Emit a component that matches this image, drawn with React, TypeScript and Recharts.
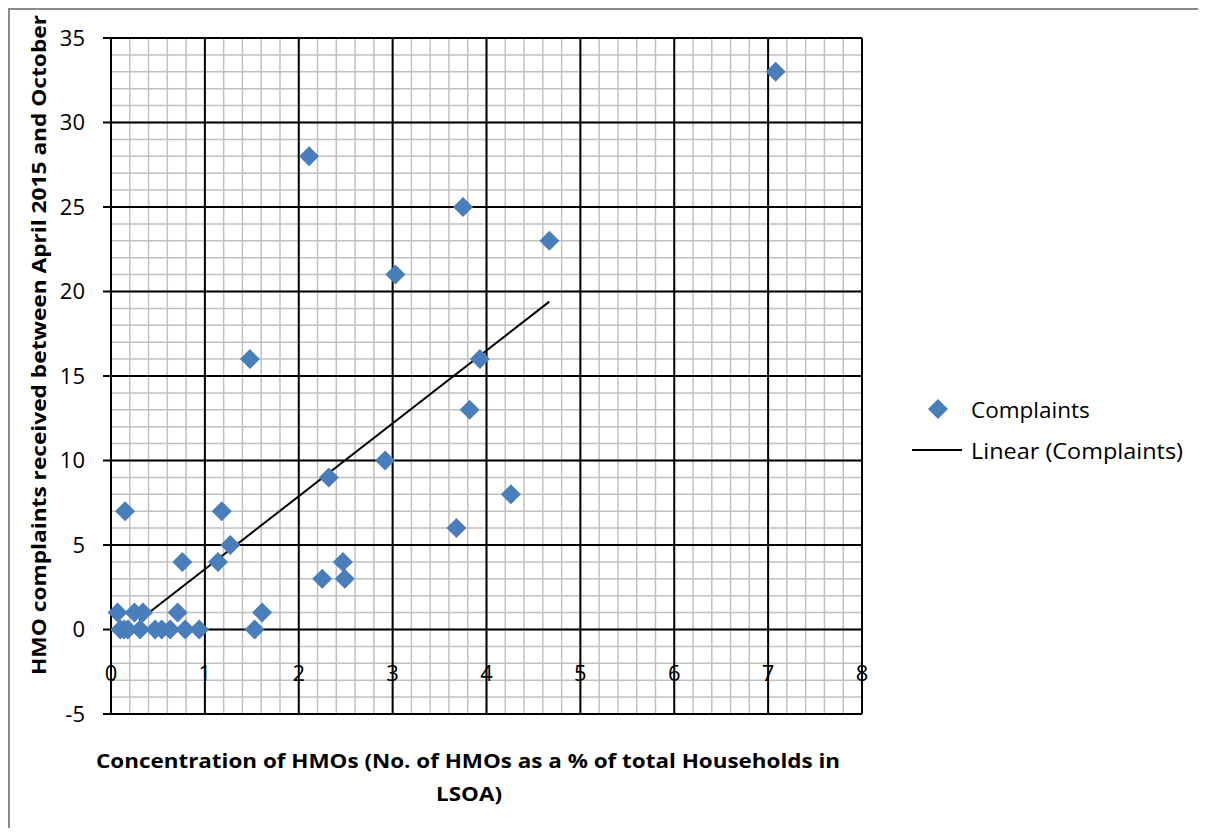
import React from "react";
import { ScatterChart, Scatter, XAxis, YAxis, CartesianGrid } from "recharts";

// HMO concentration (% of households) per LSOA
const hmoShare = [
  0.07, 0.15, 0.25, 0.34, 0.71, 1.61,
  0.1, 0.14, 0.18, 0.31, 0.47, 0.54, 0.63, 0.79, 0.94, 1.53,
  0.76, 1.14, 1.18, 1.27, 1.48, 2.11, 2.25, 2.32, 2.47, 2.49,
  2.92, 3.03, 3.68, 3.75, 3.82, 3.93, 4.26, 4.67, 7.08,
];
// Complaints received per LSOA
const complaints = [
  1, 7, 1, 1, 1, 1,
  0, 0, 0, 0, 0, 0, 0, 0, 0, 0,
  4, 4, 7, 5, 16, 28, 3, 9, 4, 3,
  10, 21, 6, 25, 13, 16, 8, 23, 33,
];
// Linear trend line end points
const trendX = [0.3, 4.67];
const trendY = [0.55, 19.4];

const xMajorTicks = [0, 1, 2, 3, 4, 5, 6, 7, 8];
const yMajorTicks = [-5, 0, 5, 10, 15, 20, 25, 30, 35];
const xMinorTicks = Array.from({ length: 41 }, (_, i) => Math.round(i * 2) / 10);
const yMinorTicks = Array.from({ length: 41 }, (_, i) => i - 5);

const seriesName = "Complaints";
const trendName = "Linear (Complaints)";
const xTitle1 = "Concentration of HMOs (No. of HMOs as a % of total Households in";
const xTitle2 = "LSOA)";
const yTitle = "HMO complaints received between April 2015  and October";

const points = hmoShare.map((x, i) => ({ x, y: complaints[i] }));
const trend = trendX.map((x, i) => ({ x, y: trendY[i] }));

const FONT = "'Open Sans', 'Liberation Sans', sans-serif";
const BLUE = "#4A7EBB";

const Diamond = (props: any) => {
  const { cx, cy } = props;
  if (cx == null || cy == null) return <g />;
  const r = 10;
  return (
    <polygon
      points={`${cx},${cy - r} ${cx + r},${cy} ${cx},${cy + r} ${cx - r},${cy}`}
      fill={BLUE}
    />
  );
};

const XTick = (props: any) => {
  const { x, y, payload } = props;
  return (
    <text
      x={x}
      y={y - 42}
      textAnchor="middle"
      dominantBaseline="central"
      fontFamily={FONT}
      fontSize={22}
      fill="#000"
    >
      {payload.value}
    </text>
  );
};

export default function App() {
  return (
    <div style={{ position: "relative", width: 1190, height: 820, overflow: "hidden" }}>
      <ScatterChart
        width={1190}
        height={820}
        margin={{ top: 30, right: 336, bottom: 84, left: 43 }}
      >
        <CartesianGrid
          stroke="#c0c0c0"
          strokeWidth={1.5}
          strokeDasharray=""
          verticalValues={xMinorTicks}
          horizontalValues={yMinorTicks}
        />
        <XAxis
          type="number"
          dataKey="x"
          domain={[0, 8]}
          ticks={xMajorTicks}
          interval={0}
          height={30}
          tickSize={0}
          tickMargin={0}
          tickLine={false}
          axisLine={{ stroke: "#000", strokeWidth: 2 }}
          tick={<XTick />}
        />
        <YAxis
          type="number"
          dataKey="y"
          domain={[-5, 35]}
          ticks={yMajorTicks}
          interval={0}
          width={60}
          tickSize={8}
          tickMargin={18}
          tickLine={{ stroke: "#000", strokeWidth: 2 }}
          axisLine={{ stroke: "#000", strokeWidth: 2 }}
          tick={{ fill: "#000", fontSize: 22, fontFamily: FONT }}
        />
        <CartesianGrid stroke="#000" strokeWidth={2} strokeDasharray="" />
        <Scatter
          name={trendName}
          data={trend}
          line={{ stroke: "#000", strokeWidth: 2 }}
          shape={() => <g />}
          isAnimationActive={false}
        />
        <Scatter
          name={seriesName}
          data={points}
          shape={<Diamond />}
          isAnimationActive={false}
        />
      </ScatterChart>
      <svg
        width={1190}
        height={820}
        style={{ position: "absolute", left: 0, top: 0, pointerEvents: "none" }}
      >
        <path d="M1,1300 L1,1 L1300,1" fill="none" stroke="#8a8a8a" strokeWidth={2} />
        <text
          transform="translate(30,667) rotate(-90)"
          x={0}
          y={0}
          textAnchor="start"
          dominantBaseline="central"
          fontFamily={FONT}
          fontWeight="bold"
          fontSize={20}
          textLength={660}
          lengthAdjust="spacingAndGlyphs"
          fill="#000"
        >
          {yTitle}
        </text>
        <text
          x={460}
          y={752}
          textAnchor="middle"
          dominantBaseline="central"
          fontFamily={FONT}
          fontWeight="bold"
          fontSize={20}
          textLength={744}
          lengthAdjust="spacingAndGlyphs"
          fill="#000"
        >
          {xTitle1}
        </text>
        <text
          x={461}
          y={785}
          textAnchor="middle"
          dominantBaseline="central"
          fontFamily={FONT}
          fontWeight="bold"
          fontSize={20}
          textLength={66}
          lengthAdjust="spacingAndGlyphs"
          fill="#000"
        >
          {xTitle2}
        </text>
        <polygon points="930,391 940,401 930,411 920,401" fill={BLUE} />
        <text x={963} y={401} dominantBaseline="central" fontFamily={FONT} fontSize={22.5} fill="#000">
          {seriesName}
        </text>
        <line x1={904} y1={442} x2={954} y2={442} stroke="#000" strokeWidth={2} />
        <text x={963} y={442} dominantBaseline="central" fontFamily={FONT} fontSize={22.5} textLength={212} lengthAdjust="spacingAndGlyphs" fill="#000">
          {trendName}
        </text>
      </svg>
    </div>
  );
}
